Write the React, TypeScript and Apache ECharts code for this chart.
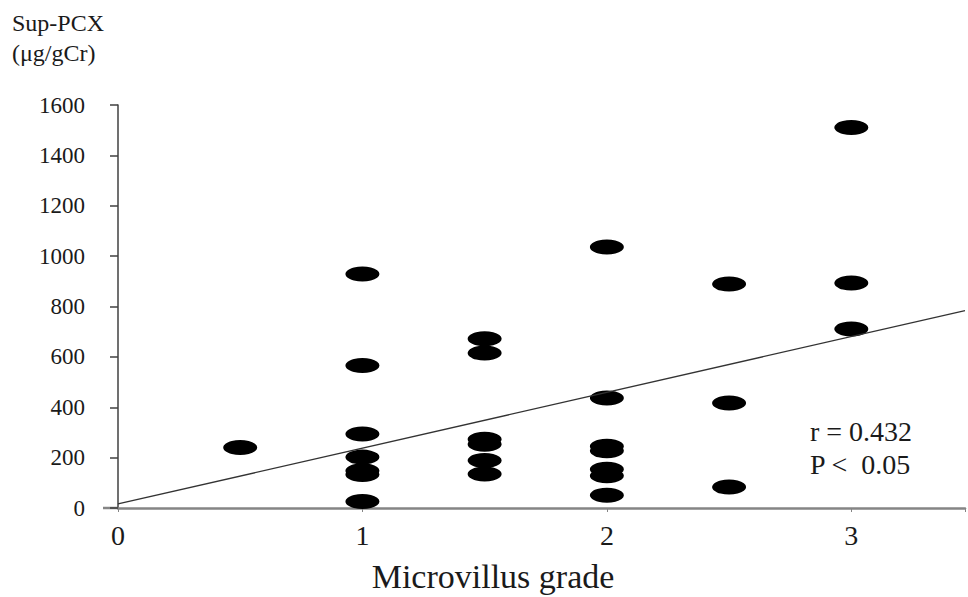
import React, { useEffect, useRef } from "react";
import * as echarts from "echarts";

// Microvillus grade vs. urinary podocalyxin (Sup-PCX)
const gradeValues: number[] = [
  0.5,
  1, 1, 1, 1, 1, 1, 1,
  1.5, 1.5, 1.5, 1.5, 1.5, 1.5,
  2, 2, 2, 2, 2, 2, 2,
  2.5, 2.5, 2.5,
  3, 3, 3,
];
const pcxValues: number[] = [
  240,
  929, 566, 294, 202, 148, 133, 26,
  672, 615, 273, 253, 189, 135,
  1036, 437, 245, 227, 154, 128, 51,
  889, 417, 83,
  1511, 893, 711,
];

// Regression line
const fitIntercept = 16;
const fitSlope = 221.6;
const xTicks: number[] = [0, 1, 2, 3];
const yTicks: number[] = [0, 200, 400, 600, 800, 1000, 1200, 1400, 1600];
const xMax = 3.465;

const statLines: string[] = ["r = 0.432", "P <  0.05"];
const yUnitLines: string[] = ["Sup-PCX", "(μg/gCr)"];
const xTitle = "Microvillus grade";

const FONT = "Liberation Serif";

export default function App() {
  const ref = useRef<HTMLDivElement>(null);

  useEffect(() => {
    if (!ref.current) return;
    const chart = echarts.init(ref.current, undefined, { renderer: "svg" });
    const points = gradeValues.map((g, i) => [g, pcxValues[i]]);
    const fit = [
      [0, fitIntercept],
      [xMax, fitIntercept + fitSlope * xMax],
    ];
    chart.setOption({
      animation: false,
      backgroundColor: "#ffffff",
      grid: { left: 118, right: 0, top: 105, bottom: 89 },
      xAxis: {
        type: "value",
        min: 0,
        max: xMax,
        interval: 1,
        splitLine: { show: false },
        axisLine: { onZero: false, lineStyle: { color: "#858585", width: 2.5 } },
        axisTick: { show: true, length: 4, lineStyle: { color: "#858585", width: 1 } },
        axisLabel: {
          color: "#1a1a1a",
          fontFamily: FONT,
          fontSize: 28,
          margin: 13,
          formatter: (v: number) => (xTicks.includes(v) ? String(v) : ""),
        },
      },
      yAxis: {
        type: "value",
        min: 0,
        max: 1600,
        interval: 200,
        splitLine: { show: false },
        axisLine: { lineStyle: { color: "#404040", width: 1.5 } },
        axisTick: { show: true, length: 8, lineStyle: { color: "#404040", width: 1.5 } },
        axisLabel: {
          color: "#1a1a1a",
          fontFamily: FONT,
          fontSize: 23,
          margin: 33,
          formatter: (v: number) => (yTicks.includes(v) ? String(v) : ""),
        },
      },
      series: [
        {
          type: "line",
          data: fit,
          symbol: "none",
          lineStyle: { color: "#333333", width: 1.3 },
          z: 3,
        },
        {
          type: "scatter",
          data: points,
          symbol: "circle",
          symbolSize: [34, 15],
          itemStyle: { color: "#000000", opacity: 1 },
          z: 2,
        },
      ],
      graphic: [
        {
          type: "line",
          shape: { x1: 103, y1: 508, x2: 118, y2: 508 },
          style: { stroke: "#858585", lineWidth: 2.5 },
        },
        {
          type: "text",
          left: 12,
          top: 8,
          style: {
            text: yUnitLines.join("\n"),
            font: `24px ${FONT}`,
            fill: "#1a1a1a",
            lineHeight: 30,
          },
        },
        {
          type: "text",
          left: 810,
          top: 415,
          style: {
            text: statLines.join("\n"),
            font: `28px ${FONT}`,
            fill: "#1a1a1a",
            lineHeight: 33,
          },
        },
        {
          type: "text",
          x: 493,
          y: 576,
          style: {
            text: xTitle,
            font: `34px ${FONT}`,
            fill: "#1a1a1a",
            align: "center",
            verticalAlign: "middle",
          },
        },
      ],
    });
    return () => chart.dispose();
  }, []);

  return (
    <div
      ref={ref}
      style={{ position: "absolute", left: 0, top: 0, width: 968, height: 597 }}
    />
  );
}
